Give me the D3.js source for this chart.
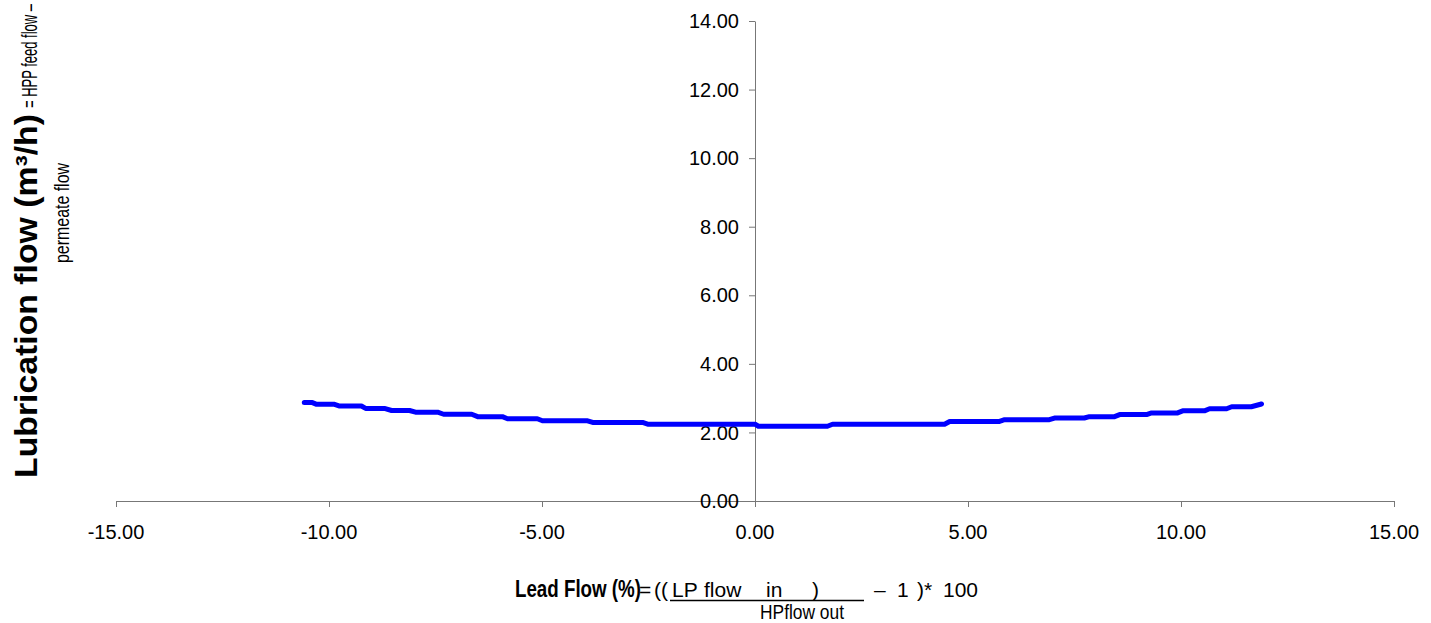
<!DOCTYPE html>
<html>
<head>
<meta charset="utf-8">
<script src="https://cdn.jsdelivr.net/npm/d3@7/dist/d3.min.js"></script>
<style>
  html, body { margin: 0; padding: 0; background: #fff; }
  svg { display: block; }
  .tick-label { font-family: "Liberation Sans", Arial, sans-serif; font-size: 20px; fill: #000; }
  .sans { font-family: "Liberation Sans", Arial, sans-serif; fill: #000; }
  .narrow { font-family: "Liberation Sans Narrow", "Arial Narrow", "Liberation Sans", Arial, sans-serif; fill: #000; }
</style>
</head>
<body>
<svg id="chart" width="1431" height="623"></svg>
<script>
// Lead flow (%) vs lubrication flow (m3/h)
const leadFlow = [-10.58, -10.39, -10.29, -9.87, -9.75, -9.24, -9.14, -8.70, -8.53, -8.11,
  -7.97, -7.45, -7.31, -6.65, -6.51, -5.93, -5.81, -5.11, -4.99, -3.93,
  -3.81, -2.64, -2.52, 0.00, 0.08, 1.70, 1.82, 4.45, 4.57, 5.74,
  5.86, 6.91, 7.03, 7.73, 7.85, 8.44, 8.56, 9.19, 9.31, 9.92,
  10.04, 10.55, 10.67, 11.07, 11.19, 11.65, 11.89];
const lubFlow = [2.87, 2.87, 2.82, 2.82, 2.77, 2.77, 2.70, 2.70, 2.64, 2.64,
  2.59, 2.59, 2.53, 2.53, 2.46, 2.46, 2.40, 2.40, 2.34, 2.34,
  2.29, 2.29, 2.24, 2.24, 2.18, 2.18, 2.24, 2.24, 2.32, 2.32,
  2.37, 2.37, 2.42, 2.42, 2.46, 2.46, 2.52, 2.52, 2.57, 2.57,
  2.63, 2.63, 2.69, 2.69, 2.75, 2.75, 2.83];
const xTicks = [-15, -10, -5, 0, 5, 10, 15];
const yTicks = [0, 2, 4, 6, 8, 10, 12, 14];

const svg = d3.select("#chart");
const AXIS = "#777";

const x = d3.scaleLinear().domain([-15, 15]).range([116, 1394]);
const y = d3.scaleLinear().domain([0, 14]).range([501, 21]);
// Excel style labels: two decimals, plain hyphen for minus
const fmt = d => d3.format(".2f")(d).replace("\u2212", "-");

// x axis (crosses at y = 0)
const xAxis = svg.append("g").attr("transform", `translate(0,${y(0)})`)
  .call(d3.axisBottom(x).tickValues(xTicks).tickSize(6).tickSizeOuter(0).tickFormat(""));
xAxis.selectAll("path, line").attr("stroke", AXIS).attr("stroke-width", 1);

// y axis (crosses at x = 0)
const yAxis = svg.append("g").attr("transform", `translate(${x(0)},0)`)
  .call(d3.axisLeft(y).tickValues(yTicks).tickSize(6).tickSizeOuter(0).tickFormat(""));
yAxis.selectAll("path, line").attr("stroke", AXIS).attr("stroke-width", 1);

// tick labels
svg.append("g").selectAll("text").data(xTicks).join("text")
  .attr("class", "tick-label")
  .attr("x", d => x(d)).attr("y", 539)
  .attr("text-anchor", "middle")
  .text(d => fmt(d));

svg.append("g").selectAll("text").data(yTicks).join("text")
  .attr("class", "tick-label")
  .attr("x", 739).attr("y", d => y(d))
  .attr("dy", "0.36em")
  .attr("text-anchor", "end")
  .text(d => fmt(d));

// the series
const line = d3.line().x(d => x(d[0])).y(d => y(d[1]));
svg.append("path")
  .datum(d3.zip(leadFlow, lubFlow))
  .attr("fill", "none")
  .attr("stroke", "#0000ff")
  .attr("stroke-width", 5)
  .attr("stroke-linejoin", "round")
  .attr("stroke-linecap", "round")
  .attr("d", line);

// y axis title, rotated
const yt = svg.append("g").attr("transform", "translate(37,478) rotate(-90)");
yt.append("text").attr("class", "sans")
  .attr("x", 0).attr("y", 0)
  .style("font-weight", "bold").style("font-size", "31px")
  .attr("textLength", 364).attr("lengthAdjust", "spacingAndGlyphs")
  .text("Lubrication flow (m³/h)");
yt.append("text").attr("class", "narrow")
  .attr("x", 370).attr("y", 0)
  .style("font-size", "22px")
  .attr("textLength", 104).attr("lengthAdjust", "spacingAndGlyphs")
  .text("= HPP feed flow –");
yt.append("text").attr("class", "narrow")
  .attr("x", 265).attr("y", 32)
  .attr("text-anchor", "middle")
  .style("font-size", "21px")
  .attr("textLength", 100).attr("lengthAdjust", "spacingAndGlyphs")
  .text("permeate flow");

// x axis title with the formula
const xt = svg.append("g");
xt.append("text").attr("class", "sans")
  .attr("x", 515).attr("y", 597)
  .style("font-weight", "bold").style("font-size", "24px")
  .attr("textLength", 126).attr("lengthAdjust", "spacingAndGlyphs")
  .text("Lead Flow (%)");

const formula = [
  { t: "=", x: 639 },
  { t: "((", x: 654 },
  { t: "LP", x: 672 },
  { t: "flow", x: 704 },
  { t: "in", x: 766 },
  { t: ")", x: 812 },
  { t: "–", x: 874 },
  { t: "1", x: 897 },
  { t: ")*", x: 917 },
  { t: "100", x: 943 }
];
xt.selectAll("text.f").data(formula).join("text")
  .attr("class", "f sans")
  .attr("x", d => d.x).attr("y", 597)
  .style("font-size", "21px")
  .text(d => d.t);
xt.append("line")
  .attr("x1", 670).attr("x2", 864).attr("y1", 600.5).attr("y2", 600.5)
  .attr("stroke", "#000").attr("stroke-width", 1.3);
xt.append("text").attr("class", "sans")
  .attr("x", 802).attr("y", 619)
  .attr("text-anchor", "middle")
  .style("font-size", "20px")
  .attr("textLength", 84).attr("lengthAdjust", "spacingAndGlyphs")
  .text("HPflow  out");
</script>
</body>
</html>
